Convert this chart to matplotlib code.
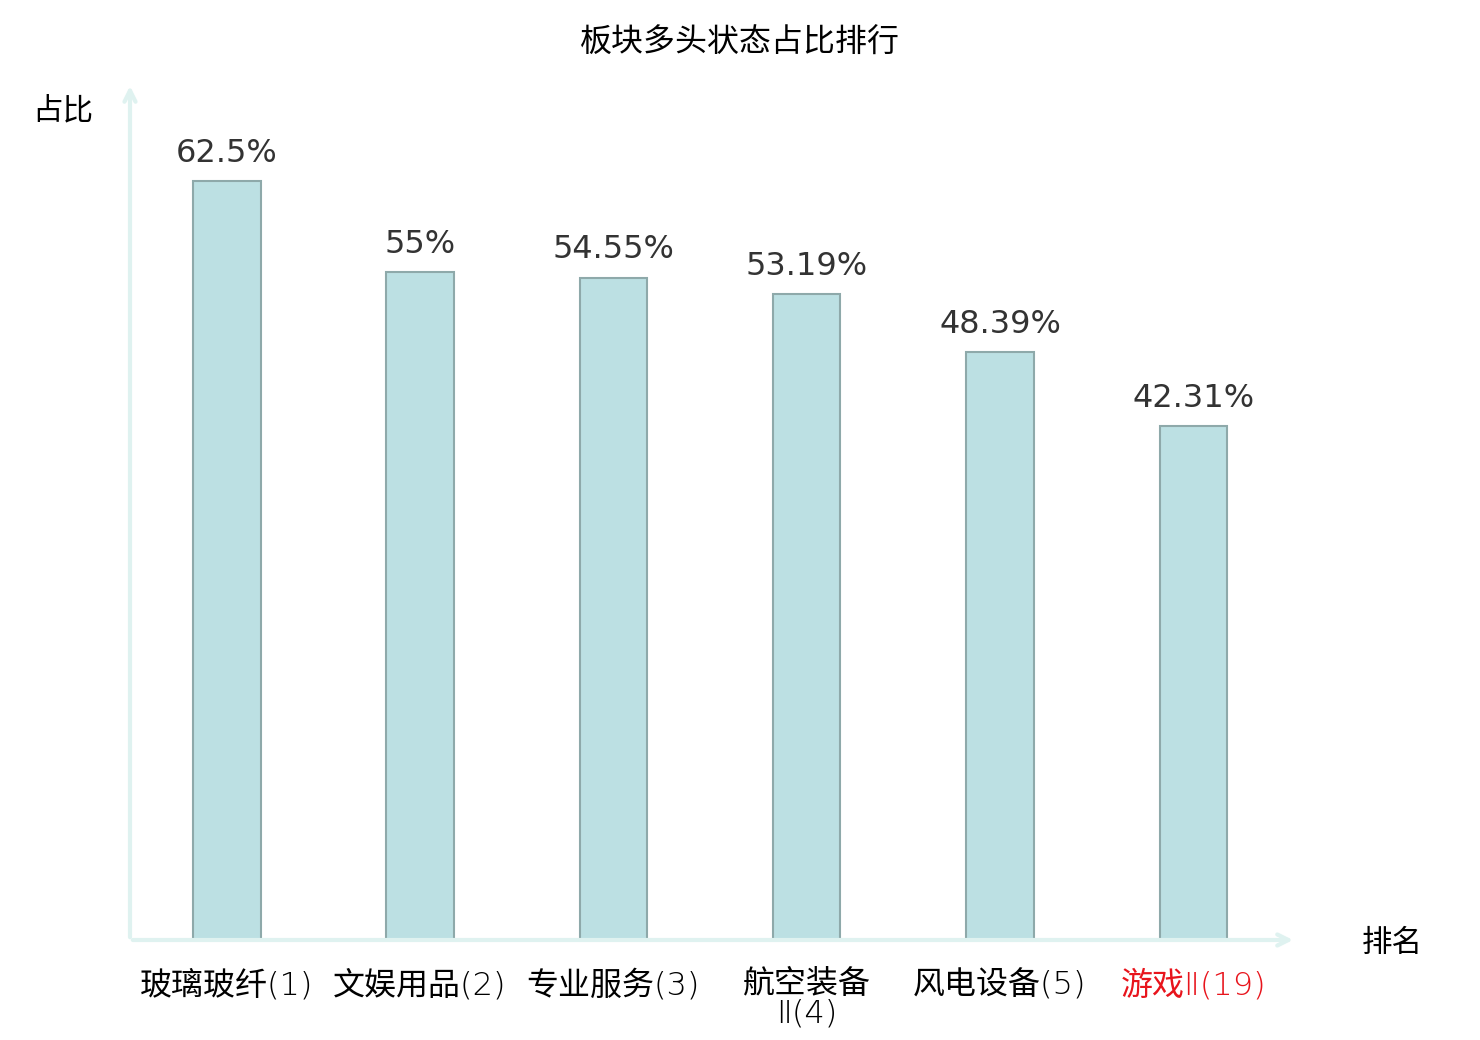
import matplotlib
matplotlib.use("Agg")
import matplotlib.pyplot as plt

plt.rcParams['font.family'] = ['Noto Sans CJK SC', 'DejaVu Sans']

categories = ["玻璃玻纤(1)", "文娱用品(2)", "专业服务(3)", "航空装备\nⅡ(4)", "风电设备(5)", "游戏Ⅱ(19)"]
ratios = [62.5, 55, 54.55, 53.19, 48.39, 42.31]
value_labels = ["62.5%", "55%", "54.55%", "53.19%", "48.39%", "42.31%"]
label_colors = ["black", "black", "black", "black", "black", "#e8141c"]

axis_color = "#dff2f0"

fig = plt.figure(figsize=(14.8, 10.4), dpi=100)
ax = fig.add_axes([130 / 1480, 100 / 1040, 1160 / 1480, 850 / 1040])

x = list(range(len(categories)))
ax.bar(x, ratios, width=0.35, color="#bce0e3", edgecolor="#8ea9aa", linewidth=1.5, zorder=2)

for i, v in enumerate(ratios):
    ax.annotate(value_labels[i], (i, v), xytext=(0, 9), textcoords="offset points",
                ha="center", va="bottom", fontsize=23, color="#333333", family="DejaVu Sans")

ax.set_xlim(-0.5, 5.5)
ax.set_ylim(0, 70)
for s in ax.spines.values():
    s.set_visible(False)
ax.set_yticks([])
ax.set_xticks(x)
ax.set_xticklabels(categories, fontsize=23, linespacing=0.95, fontweight=200,
                   family=['DejaVu Sans', 'Noto Sans CJK SC'])
ax.tick_params(axis="x", length=0, pad=21)
for lbl, c in zip(ax.get_xticklabels(), label_colors):
    lbl.set_color(c)
    lbl.set_verticalalignment("top")

# 坐标轴箭头
ax.annotate("", xy=(0, 1.008), xytext=(0, 0), xycoords="axes fraction",
            arrowprops=dict(arrowstyle="->,head_length=0.8,head_width=0.4", color=axis_color, lw=3),
            annotation_clip=False)
ax.annotate("", xy=(1.005, 0), xytext=(0, 0), xycoords="axes fraction",
            arrowprops=dict(arrowstyle="->,head_length=0.8,head_width=0.4", color=axis_color, lw=3),
            annotation_clip=False)

fig.text(740 / 1480, 1 - 43 / 1040, "板块多头状态占比排行", ha="center", va="center", fontsize=23)
fig.text(63 / 1480, 1 - 111 / 1040, "占比", ha="center", va="center", fontsize=22)
fig.text(1392 / 1480, 1 - 943 / 1040, "排名", ha="center", va="center", fontsize=22)

fig.savefig("out.png", dpi=100, facecolor="white")
